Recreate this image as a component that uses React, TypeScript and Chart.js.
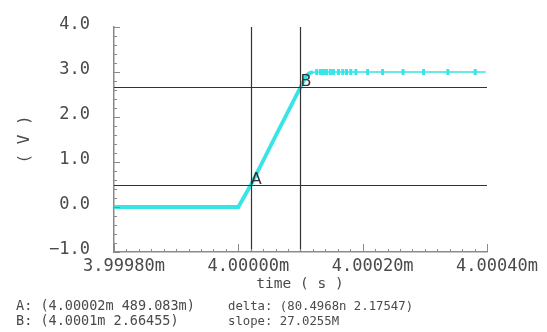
import React, { useEffect, useRef } from "react";
import { Chart, registerables } from "chart.js";

Chart.register(...registerables);

// ---- data ----
const timeMs = [
  3.9998, 4.0, 4.00002, 4.00004, 4.00006, 4.00008, 4.0001, 4.000106, 4.00011, 4.000115,
  4.00012, 4.000126, 4.000132, 4.000137, 4.000142, 4.000148, 4.000153, 4.000161, 4.000168,
  4.000174, 4.000181, 4.000189, 4.000208, 4.000232, 4.000265, 4.000298, 4.000337, 4.000381,
  4.000398,
];
const voltage = [
  0.0, 0.0, 0.489083, 1.03, 1.58, 2.12, 2.66455, 2.83, 2.93, 2.98,
  2.995, 3.0, 3.0, 3.0, 3.0, 3.0, 3.0, 3.0, 3.0,
  3.0, 3.0, 3.0, 3.0, 3.0, 3.0, 3.0, 3.0, 3.0,
  3.0,
];
const rampEndMs = 4.00012;

const xTickValues = [3.9998, 4.0, 4.0002, 4.0004];
const xTickLabels = ["3.99980m", "4.00000m", "4.00020m", "4.00040m"];
const yTickValues = [-1, 0, 1, 2, 3, 4];
const yTickLabels = ["\u22121.0", "0.0", "1.0", "2.0", "3.0", "4.0"];

const cursorNames = ["A", "B"];
const cursorTimes = [4.00002, 4.0001];
const cursorValues = [0.489083, 2.66455];
const readoutLeft = ["A: (4.00002m 489.083m)", "B: (4.0001m 2.66455)"];
const readoutRight = ["delta: (80.4968n 2.17547)", "slope: 27.0255M"];
const xTitle = "time ( s )";
const yTitle = "( V )";

const CYAN = "#38e4e4";
const AXIS = "#8a8a8a";
const TEXT = "#4a4a4a";
const MONO = "'DejaVu Sans Mono', monospace";

const overlay = {
  id: "overlay",
  afterDatasetsDraw(chart: any) {
    const { ctx, chartArea } = chart;
    const xs = chart.scales.x;
    const ys = chart.scales.y;
    ctx.save();
    ctx.strokeStyle = "#333333";
    ctx.lineWidth = 1.2;
    cursorTimes.forEach((t) => {
      const px = Math.round(xs.getPixelForValue(t)) + 0.5;
      ctx.beginPath();
      ctx.moveTo(px, chartArea.top);
      ctx.lineTo(px, chartArea.bottom);
      ctx.stroke();
    });
    cursorValues.forEach((v) => {
      const py = Math.round(ys.getPixelForValue(v)) + 0.5;
      ctx.beginPath();
      ctx.moveTo(chartArea.left, py);
      ctx.lineTo(chartArea.right, py);
      ctx.stroke();
    });
    ctx.fillStyle = "#333333";
    ctx.font = "16px 'DejaVu Sans', sans-serif";
    ctx.textAlign = "left";
    ctx.textBaseline = "alphabetic";
    cursorNames.forEach((n, i) => {
      const px = xs.getPixelForValue(cursorTimes[i]);
      const py = ys.getPixelForValue(cursorValues[i]);
      ctx.fillText(n, px, py - 1);
    });
    ctx.restore();
  },
  afterDraw(chart: any) {
    const { ctx, chartArea } = chart;
    const xs = chart.scales.x;
    const ys = chart.scales.y;
    ctx.save();
    ctx.strokeStyle = AXIS;
    ctx.lineWidth = 1;
    for (let i = 0; i < xTickValues.length; i++) {
      const px = Math.round(xs.getPixelForValue(xTickValues[i])) + 0.5;
      ctx.beginPath();
      ctx.moveTo(px, chartArea.bottom);
      ctx.lineTo(px, chartArea.bottom - 8);
      ctx.stroke();
      if (i < xTickValues.length - 1) {
        const step = (xTickValues[i + 1] - xTickValues[i]) / 10;
        for (let k = 1; k < 10; k++) {
          const mx = Math.round(xs.getPixelForValue(xTickValues[i] + step * k)) + 0.5;
          ctx.beginPath();
          ctx.moveTo(mx, chartArea.bottom);
          ctx.lineTo(mx, chartArea.bottom - 3);
          ctx.stroke();
        }
      }
    }
    for (let i = 0; i < yTickValues.length; i++) {
      const py = Math.round(ys.getPixelForValue(yTickValues[i])) + 0.5;
      ctx.beginPath();
      ctx.moveTo(chartArea.left, py);
      ctx.lineTo(chartArea.left + 6, py);
      ctx.stroke();
      if (i < yTickValues.length - 1) {
        const step = (yTickValues[i + 1] - yTickValues[i]) / 5;
        for (let k = 1; k < 5; k++) {
          const my = Math.round(ys.getPixelForValue(yTickValues[i] + step * k)) + 0.5;
          ctx.beginPath();
          ctx.moveTo(chartArea.left, my);
          ctx.lineTo(chartArea.left + 3, my);
          ctx.stroke();
        }
      }
    }
    ctx.fillStyle = TEXT;
    ctx.textBaseline = "alphabetic";
    ctx.textAlign = "center";
    ctx.font = `14.5px ${MONO}`;
    ctx.fillText(xTitle, 300, 288);
    ctx.textAlign = "left";
    ctx.font = `13.5px ${MONO}`;
    readoutLeft.forEach((s, i) => ctx.fillText(s, 16, 310 + i * 15));
    ctx.font = `12.3px ${MONO}`;
    readoutRight.forEach((s, i) => ctx.fillText(s, 228, 310 + i * 15));
    ctx.restore();
  },
};

export default function App() {
  const ref = useRef<HTMLCanvasElement | null>(null);
  useEffect(() => {
    if (!ref.current) return;
    const chart = new Chart(ref.current, {
      type: "line",
      data: {
        datasets: [
          {
            data: timeMs.map((t, i) => ({ x: t, y: voltage[i] })),
            borderColor: CYAN,
            backgroundColor: CYAN,
            borderWidth: 1.6,
            segment: {
              borderWidth: (c: any) => (c.p1.parsed.x <= rampEndMs ? 3.8 : 1.6),
            },
            pointStyle: "line",
            rotation: 90,
            pointRadius: (c: any) => (timeMs[c.dataIndex] > rampEndMs && c.dataIndex < timeMs.length - 1 ? 3 : 0),
            pointBorderWidth: 3,
            pointBorderColor: CYAN,
            tension: 0,
          } as any,
        ],
      },
      options: {
        animation: false,
        responsive: false,
        devicePixelRatio: 1,
        layout: { padding: { top: 27, right: 60, left: 0, bottom: 0 } },
        plugins: { legend: { display: false }, tooltip: { enabled: false } },
        scales: {
          x: {
            type: "linear",
            min: 3.9998,
            max: 4.0004,
            afterBuildTicks: (s: any) => {
              s.ticks = xTickValues.map((v) => ({ value: v }));
            },
            afterFit: (s: any) => {
              s.height = 80;
              s.paddingLeft = 0;
              s.paddingRight = 0;
            },
            ticks: {
              callback: (_v: any, i: number) => xTickLabels[i],
              labelOffset: 10,
              padding: 4,
              maxRotation: 0,
              autoSkip: false,
              color: TEXT,
              font: { family: MONO, size: 17 },
            },
            grid: { display: false, drawTicks: false },
            border: { display: true, color: AXIS, width: 1.5 },
          },
          y: {
            type: "linear",
            min: -1,
            max: 4,
            afterBuildTicks: (s: any) => {
              s.ticks = yTickValues.map((v) => ({ value: v }));
            },
            afterFit: (s: any) => {
              s.width = 114;
              s.paddingTop = 0;
              s.paddingBottom = 0;
            },
            ticks: {
              callback: (_v: any, i: number) => yTickLabels[i],
              labelOffset: -2,
              padding: 24,
              color: TEXT,
              font: { family: MONO, size: 17 },
            },
            grid: { display: false, drawTicks: false },
            border: { display: true, color: AXIS, width: 1.5 },
            title: {
              display: true,
              text: yTitle,
              color: TEXT,
              font: { family: MONO, size: 16 },
              padding: { top: 15, bottom: 0 },
            },
          },
        },
      },
      plugins: [overlay],
    } as any);
    return () => chart.destroy();
  }, []);
  return (
    <div style={{ position: "absolute", left: 0, top: 0, width: 547, height: 332, background: "#fff" }}>
      <canvas ref={ref} width={547} height={332} style={{ display: "block" }} />
    </div>
  );
}
